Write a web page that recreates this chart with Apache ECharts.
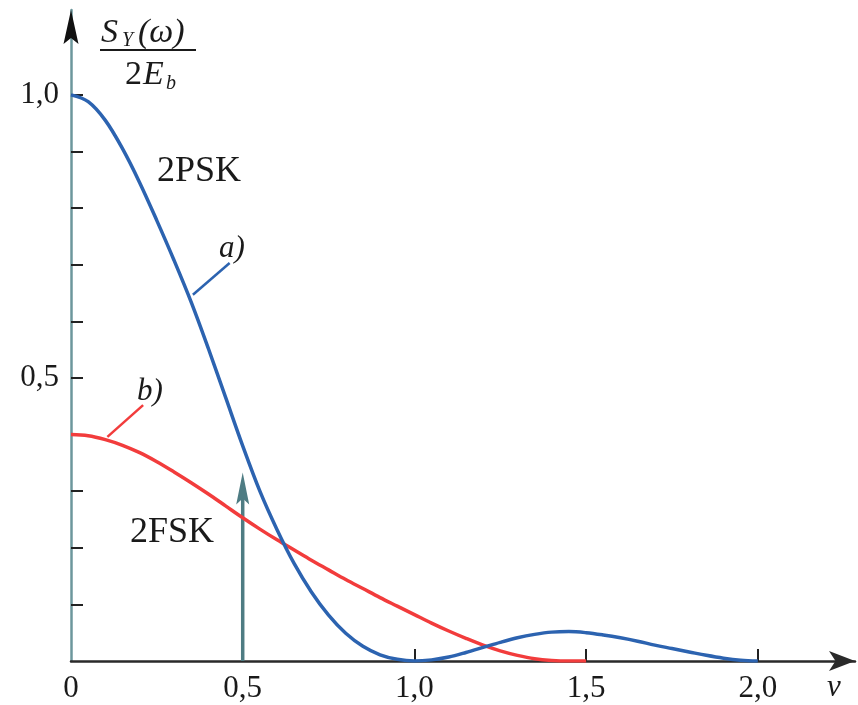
<!DOCTYPE html>
<html>
<head>
<meta charset="utf-8">
<script src="https://cdn.jsdelivr.net/npm/echarts@6/dist/echarts.min.js"></script>
<style>
html,body{margin:0;padding:0;background:#fff;}
#chart{width:858px;height:705px;}
</style>
</head>
<body>
<div id="chart"></div>
<script>
// normalized frequency ν
const nuPSK = [0,0.05,0.1,0.15,0.2,0.25,0.3,0.35,0.4,0.45,0.5,0.55,0.6,0.65,0.7,0.75,0.8,0.85,0.9,0.95,1.0,
  1.05,1.1,1.15,1.2,1.25,1.3,1.35,1.4,1.45,1.5,1.55,1.6,1.65,1.7,1.75,1.8,1.85,1.9,1.95,2.0];
// a) 2PSK spectrum
const psk = [1.000,0.988,0.955,0.905,0.845,0.778,0.708,0.634,0.552,0.466,0.380,0.300,0.232,0.172,0.122,0.081,0.049,0.026,0.011,0.003,0.000,
  0.002,0.007,0.015,0.024,0.033,0.041,0.047,0.051,0.052,0.050,0.046,0.041,0.035,0.028,0.022,0.016,0.010,0.005,0.0015,0.000];
const nuFSK = [0,0.05,0.1,0.15,0.2,0.25,0.3,0.35,0.4,0.45,0.5,0.55,0.6,0.65,0.7,0.75,0.8,0.85,0.9,0.95,1.0,
  1.05,1.1,1.15,1.2,1.25,1.3,1.35,1.4,1.45,1.5];
// b) 2FSK spectrum
const fsk = [0.400,0.398,0.391,0.381,0.368,0.352,0.334,0.315,0.295,0.274,0.253,0.233,0.214,0.196,0.178,0.161,0.144,0.128,0.112,0.097,0.082,
  0.067,0.053,0.040,0.028,0.018,0.010,0.004,0.001,0.000,0.000];
// discrete component of 2FSK (arrow)
const arrowNu = [0.5, 0.5];
const arrowVal = [0, 0.333];
const xLabelTicks = [0, 0.5, 1.0, 1.5, 2.0];
const xTicks = [0.5, 1.0, 1.5, 2.0];
const yLabelTicks = [0.5, 1.0];
const yTicks = [0.1,0.2,0.3,0.4,0.5,0.6,0.7,0.8,0.9,1.0];

const SERIF = '"Liberation Serif", "DejaVu Serif", serif';
const BLUE = '#2c63b0';
const RED = '#f23c3c';
const TEAL = '#4e7c83';

const chart = echarts.init(document.getElementById('chart'), null, {renderer: 'canvas'});
const fmt = v => v === 0 ? '0' : v.toFixed(1).replace('.', ',');

chart.setOption({
  animation: false,
  backgroundColor: '#fff',
  grid: {left: 71, top: 10, width: 784, bottom: 44, containLabel: false},
  xAxis: {
    type: 'value', min: 0, max: 2.283,
    splitLine: {show: false},
    axisLine: {lineStyle: {color: '#2a2a2a', width: 2.5}, symbol: ['none', 'arrow'], symbolSize: [15, 26]},
    axisTick: {show: true, inside: true, length: 12, lineStyle: {color: '#222', width: 2}, customValues: xTicks},
    axisLabel: {customValues: xLabelTicks, formatter: fmt, fontFamily: SERIF, fontSize: 31, color: '#1a1a1a', margin: 12}
  },
  yAxis: {
    type: 'value', min: 0, max: 1.15,
    splitLine: {show: false},
    axisLine: {show: true, lineStyle: {color: '#6c979c', width: 2.5}, symbol: 'none'},
    axisTick: {show: true, inside: true, length: 12, lineStyle: {color: '#222', width: 2}, customValues: yTicks},
    axisLabel: {customValues: yLabelTicks, formatter: fmt, fontFamily: SERIF, fontSize: 31, color: '#1a1a1a', margin: 12}
  },
  series: [
    {type: 'line', name: 'a) 2PSK', data: nuPSK.map((x, i) => [x, psk[i]]), showSymbol: false, smooth: 0.35,
     lineStyle: {color: BLUE, width: 3.5}, z: 3},
    {type: 'line', name: 'b) 2FSK', data: nuFSK.map((x, i) => [x, fsk[i]]), showSymbol: false, smooth: 0.35,
     lineStyle: {color: RED, width: 3.5}, z: 2},
    {type: 'line', name: 'arrow', data: arrowNu.map((x, i) => [x, arrowVal[i] * (i ? 0.93 : 1)]), showSymbol: false,
     lineStyle: {color: TEAL, width: 3.5}, z: 1}
  ]
});

function px(x, y) { return chart.convertToPixel({gridIndex: 0}, [x, y]); }

const g = [];
// y-axis arrow head (dark)
const yTop = px(0, 1.15);
g.push({type: 'polygon', shape: {points: [[yTop[0], yTop[1]], [yTop[0] + 7.5, yTop[1] + 34], [yTop[0], yTop[1] + 28], [yTop[0] - 7.5, yTop[1] + 34]]},
  style: {fill: '#111'}, z: 10});
// 2FSK arrow head
const head = px(arrowNu[1], arrowVal[1]);
g.push({type: 'polygon', shape: {points: [[head[0], head[1]], [head[0] + 6.5, head[1] + 32], [head[0], head[1] + 26], [head[0] - 6.5, head[1] + 32]]},
  style: {fill: TEAL}, z: 10});
// leader lines
const a1 = px(0.355, 0.647), a2 = px(0.462, 0.703);
g.push({type: 'line', shape: {x1: a1[0], y1: a1[1], x2: a2[0], y2: a2[1]}, style: {stroke: BLUE, lineWidth: 2.5}, z: 10});
const b1 = px(0.106, 0.396), b2 = px(0.21, 0.452);
g.push({type: 'line', shape: {x1: b1[0], y1: b1[1], x2: b2[0], y2: b2[1]}, style: {stroke: RED, lineWidth: 2.5}, z: 10});
// text annotations
const T = (x, y, text, size, italic) => ({type: 'text', x: x, y: y, z: 10,
  style: {text: text, fontFamily: SERIF, fontSize: size, fontStyle: italic ? 'italic' : 'normal', fill: '#1a1a1a', textVerticalAlign: 'top'}});
g.push(T(157, 154, '2PSK', 36, false));
g.push(T(130, 515, '2FSK', 36, false));
g.push(T(219, 233, 'a)', 31, true));
g.push(T(137, 376, 'b)', 31, true));
// y-axis title: S_Y(ω) / 2E_b
g.push(T(101, 16, 'S', 34, true));
g.push(T(122, 31, 'Y', 20, true));
g.push(T(138, 16, '(ω)', 34, true));
g.push({type: 'line', shape: {x1: 100, y1: 50, x2: 196, y2: 50}, style: {stroke: '#1a1a1a', lineWidth: 2.2}, z: 10});
g.push(T(125, 58, '2', 34, false));
g.push(T(143, 58, 'E', 34, true));
g.push(T(166, 74, 'b', 20, true));
// ν axis name
g.push(T(827, 672, 'ν', 31, true));
chart.setOption({graphic: g});
</script>
</body>
</html>
